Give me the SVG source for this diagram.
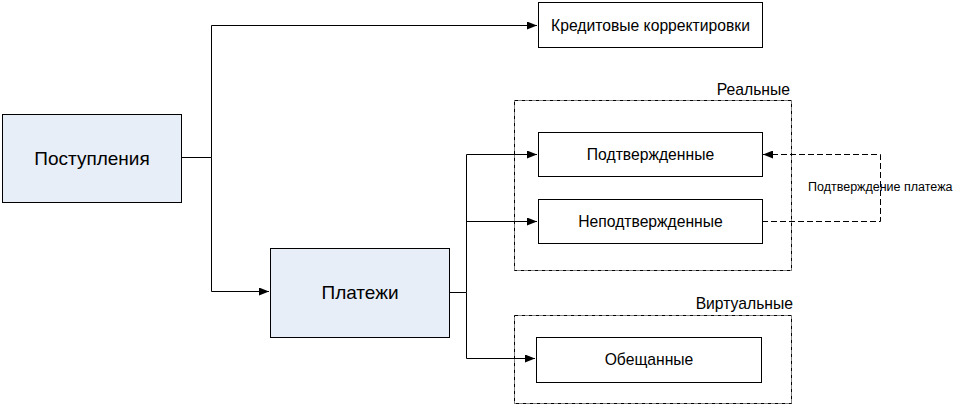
<svg xmlns="http://www.w3.org/2000/svg" width="964" height="406" viewBox="0 0 964 406">
<style>
.node{fill:#fff;stroke:#000;stroke-width:1}
.main{fill:#e8eef8;stroke:#000;stroke-width:1}
.grp{fill:none;stroke:#000;stroke-width:1;stroke-dasharray:4,1,1,1}
.t{font-family:"Liberation Sans",Arial,sans-serif;font-size:15.7px;fill:#000;text-anchor:middle}
.tl{font-family:"Liberation Sans",Arial,sans-serif;font-size:19px;fill:#000;text-anchor:middle}
.tg{font-family:"Liberation Sans",Arial,sans-serif;font-size:15.7px;fill:#000;text-anchor:end}
.ts{font-family:"Liberation Sans",Arial,sans-serif;font-size:12.5px;fill:#000}
.c{fill:none;stroke:#000;stroke-width:1}
.d{fill:none;stroke:#000;stroke-width:1;stroke-dasharray:6,3}
</style>
<defs>
<marker id="a" viewBox="0 0 10 8" refX="10" refY="4" markerWidth="10" markerHeight="8" markerUnits="userSpaceOnUse" orient="auto">
<path d="M0,0 L10,4 L0,8 z" fill="#000"/>
</marker>
</defs>
<g id="group-real">
<rect class="grp" x="514.5" y="100.5" width="277" height="170"/>
<text class="tg" x="790" y="95">Реальные</text>
</g>
<g id="group-virtual">
<rect class="grp" x="514.5" y="315.5" width="277" height="88"/>
<text class="tg" x="793" y="309">Виртуальные</text>
</g>
<g id="connectors">
<polyline class="c" points="181,157.5 211.5,157.5 211.5,25.5 537,25.5" marker-end="url(#a)"/>
<polyline class="c" points="211.5,157.5 211.5,291.5 269,291.5" marker-end="url(#a)"/>
<polyline class="c" points="449,292.5 466.5,292.5 466.5,154.5 537,154.5" marker-end="url(#a)"/>
<polyline class="c" points="466.5,221.5 537,221.5" marker-end="url(#a)"/>
<polyline class="c" points="466.5,292.5 466.5,358.5 535,358.5" marker-end="url(#a)"/>
<polyline class="d" points="762,221.5 880.5,221.5 880.5,154.5 763,154.5" marker-end="url(#a)"/>
<text class="ts" x="808" y="191">Подтверждение платежа</text>
</g>
<g id="node-postupleniya">
<rect class="main" x="2.5" y="114.5" width="179" height="88"/>
<text class="tl" x="92" y="164.5">Поступления</text>
</g>
<g id="node-kredit">
<rect class="node" x="538.5" y="2.5" width="224" height="45"/>
<text class="t" x="650.5" y="30.5">Кредитовые корректировки</text>
</g>
<g id="node-platezhi">
<rect class="main" x="270.5" y="248.5" width="179" height="89"/>
<text class="tl" x="360" y="298.5">Платежи</text>
</g>
<g id="node-podtv">
<rect class="node" x="538.5" y="132.5" width="224" height="44"/>
<text class="t" x="650.5" y="160">Подтвержденные</text>
</g>
<g id="node-nepodtv">
<rect class="node" x="538.5" y="199.5" width="224" height="44"/>
<text class="t" x="650.5" y="227">Неподтвержденные</text>
</g>
<g id="node-obeshch">
<rect class="node" x="536.5" y="337.5" width="225" height="45"/>
<text class="t" x="649" y="364.5">Обещанные</text>
</g>
</svg>
